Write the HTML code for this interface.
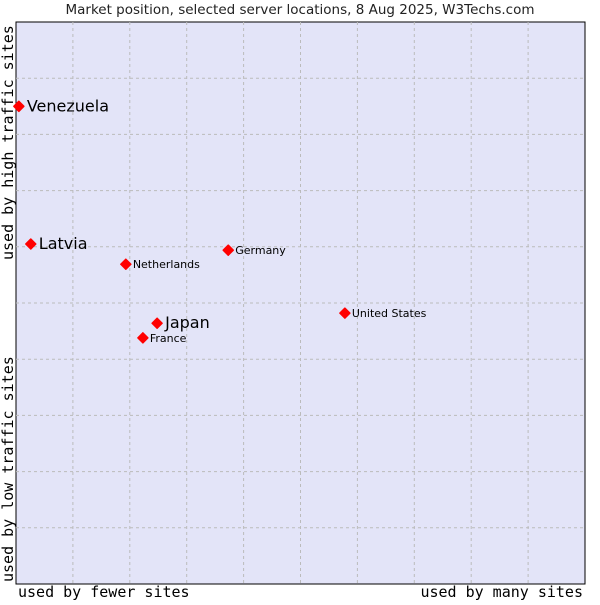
<!DOCTYPE html>
<html><head><meta charset="utf-8"><style>
body{margin:0;background:#fff;width:600px;height:600px;overflow:hidden}
svg{font-family:"DejaVu Sans","Liberation Sans",sans-serif}
</style></head><body>
<svg id="chart" width="600" height="600">
<text x="300" y="14" text-anchor="middle" font-size="13.5" fill="#222">Market position, selected server locations, 8 Aug 2025, W3Techs.com</text>
<rect x="16" y="22" width="569" height="562" fill="#e3e4f8" stroke="#000" stroke-width="1"/>
<g id="grid"></g>
<g id="points"></g>
<text x="18" y="597" font-family="DejaVu Sans Mono,Liberation Mono,monospace" font-size="15" fill="#000">used by fewer sites</text>
<text x="583" y="597" text-anchor="end" font-family="DejaVu Sans Mono,Liberation Mono,monospace" font-size="15" fill="#000">used by many sites</text>
<text transform="translate(13,260) rotate(-90)" font-family="DejaVu Sans Mono,Liberation Mono,monospace" font-size="15" fill="#000">used by high traffic sites</text>
<text transform="translate(13,582) rotate(-90)" font-family="DejaVu Sans Mono,Liberation Mono,monospace" font-size="15" fill="#000">used by low traffic sites</text>
</svg>
<script>
const names=["Venezuela","Latvia","Netherlands","Germany","United States","Japan","France"];
const xVals=[0.5,2.6,19.3,37.3,57.8,24.8,22.3];
const yVals=[85.0,60.5,56.9,59.4,48.2,46.4,43.8];
const highlighted=[true,true,false,false,false,true,false];
const X0=16,X1=585,Y0=584,Y1=22;
const sx=v=>X0+v/100*(X1-X0);
const sy=v=>Y0-v/100*(Y0-Y1);
const NS="http://www.w3.org/2000/svg";
const grid=document.getElementById('grid');
for(let i=1;i<10;i++){
 const lv=document.createElementNS(NS,'line');
 
 
 lv.setAttribute('x1',sx(i*10));lv.setAttribute('x2',sx(i*10));lv.setAttribute('y1',Y1);lv.setAttribute('y2',Y0);
 lv.setAttribute('stroke','#bbb');lv.setAttribute('stroke-dasharray','3,3');grid.appendChild(lv);
 const lh=document.createElementNS(NS,'line');
 
 
 lh.setAttribute('y1',sy(i*10));lh.setAttribute('y2',sy(i*10));lh.setAttribute('x1',X0);lh.setAttribute('x2',X1);
 lh.setAttribute('stroke','#bbb');lh.setAttribute('stroke-dasharray','3,3');grid.appendChild(lh);
}
const pts=document.getElementById('points');
names.forEach((n,i)=>{
 const x=sx(xVals[i]),y=sy(yVals[i]);
 const d=document.createElementNS(NS,'path');
 
 
 d.setAttribute('d',`M${x} ${y-5}L${x+5} ${y}L${x} ${y+5}L${x-5} ${y}Z`);
 d.setAttribute('fill','#f00');d.setAttribute('stroke','#f00');d.setAttribute('stroke-linejoin','round');d.setAttribute('stroke-width','1.5');
 pts.appendChild(d);
 const t=document.createElementNS(NS,'text');
 
 
 const big=highlighted[i];
 t.setAttribute('x',x+(big?8:7));t.setAttribute('y',y+(big?5:4));
 t.setAttribute('font-size',big?16:11);t.setAttribute('fill','#000');
 t.textContent=n;pts.appendChild(t);
});
</script>
</body></html>
